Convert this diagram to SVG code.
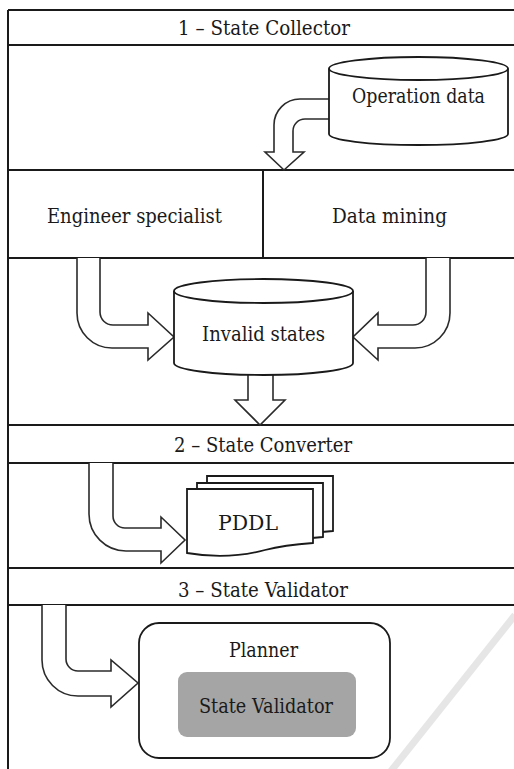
<svg xmlns="http://www.w3.org/2000/svg" width="514" height="769" viewBox="0 0 514 769">
<style>
.frame{fill:none;stroke:#1a1a1a;stroke-width:2}
.arrow{fill:#fff;stroke:#2b2b2b;stroke-width:1.6;stroke-linejoin:miter}
.shape{fill:#fff;stroke:#1a1a1a;stroke-width:1.8}
text{font-family:"DejaVu Serif","Liberation Serif",serif;font-size:21px;fill:#1a1a1a;text-anchor:middle}
</style>
<rect width="514" height="769" fill="#fff"/>
<line x1="515" y1="615" x2="391" y2="771" stroke="#e6e6e6" stroke-width="7"/>
<g id="frame" class="frame">
<path d="M8,10 V769"/>
<path d="M8,10 H514 M8,45 H514 M8,170 H514 M8,258 H514 M8,425 H514 M8,463 H514 M8,568 H514 M8,605 H514"/>
<path d="M263,170 V258"/>
</g>
<g id="headers">
<text x="264" y="35" textLength="172" lengthAdjust="spacingAndGlyphs">1 – State Collector</text>
<text x="263" y="452" textLength="178" lengthAdjust="spacingAndGlyphs">2 – State Converter</text>
<text x="263" y="597" textLength="170" lengthAdjust="spacingAndGlyphs">3 – State Validator</text>
</g>
<g id="connectors">
<path class="arrow" d="M335,99 L300,99 A26,26 0 0 0 274,125 L274,152 L265,152 L284,170 L304,152 L293,152 L293,131 A12,12 0 0 1 305,119 L335,119"/>
<path class="arrow" d="M77,258 L77,313 A35,35 0 0 0 112,348 L148,348 L148,360 L174,337 L148,313 L148,325 L113,325 A13,13 0 0 1 100,312 L100,258"/>
<path class="arrow" d="M450,258 L450,313 A35,35 0 0 1 415,348 L378,348 L378,360 L353,337 L378,313 L378,325 L413,325 A13,13 0 0 0 426,312 L426,258"/>
<path class="arrow" d="M248,368 L248,400 L235,400 L260,425 L285,400 L273,400 L273,368"/>
<path class="arrow" d="M89,463 L89,514 A37,37 0 0 0 126,551 L161,551 L161,563 L185,540 L161,517 L161,528 L125,528 A12,12 0 0 1 113,516 L113,463"/>
<path class="arrow" d="M42,605 L42,660 A36,36 0 0 0 78,696 L111,696 L111,707 L138,683 L111,660 L111,671 L78,671 A12,12 0 0 1 66,659 L66,605"/>
</g>
<g id="operation-data">
<path class="shape" d="M329,68.5 V134 A89.5,11 0 0 0 508,134 V68.5"/>
<ellipse class="shape" cx="418.5" cy="68.5" rx="89.5" ry="11.5"/>
<text x="418.5" y="103" textLength="133" lengthAdjust="spacingAndGlyphs">Operation data</text>
</g>
<g id="engineer-specialist">
<text x="134.5" y="223" textLength="175" lengthAdjust="spacingAndGlyphs">Engineer specialist</text>
</g>
<g id="data-mining">
<text x="389.5" y="223" textLength="115" lengthAdjust="spacingAndGlyphs">Data mining</text>
</g>
<g id="invalid-states">
<path class="shape" d="M174,291 V363 A89.5,12 0 0 0 353,363 V291"/>
<ellipse class="shape" cx="263.5" cy="291" rx="89.5" ry="12"/>
<text x="263.5" y="341" textLength="123" lengthAdjust="spacingAndGlyphs">Invalid states</text>
</g>
<g id="pddl">
<path class="shape" d="M207,476 H333 V531 C318,532 300,534 285,538 C255,546 230,545 207,541 Z"/>
<path class="shape" d="M197,483 H323 V537 C308,538 290,540 275,544 C245,552 220,551 197,547 Z"/>
<path class="shape" d="M187,489 H313 V543 C298,544 280,546 265,550 C235,558 210,557 187,553 Z"/>
<text x="248" y="530" textLength="60" lengthAdjust="spacingAndGlyphs">PDDL</text>
</g>
<g id="planner">
<rect class="shape" x="139" y="623" width="251" height="135" rx="20"/>
<text x="263.5" y="657" textLength="69" lengthAdjust="spacingAndGlyphs">Planner</text>
</g>
<g id="state-validator">
<rect x="178" y="672" width="178" height="65" rx="9" fill="#a5a5a5"/>
<text x="266" y="713" textLength="134" lengthAdjust="spacingAndGlyphs">State Validator</text>
</g>
</svg>
